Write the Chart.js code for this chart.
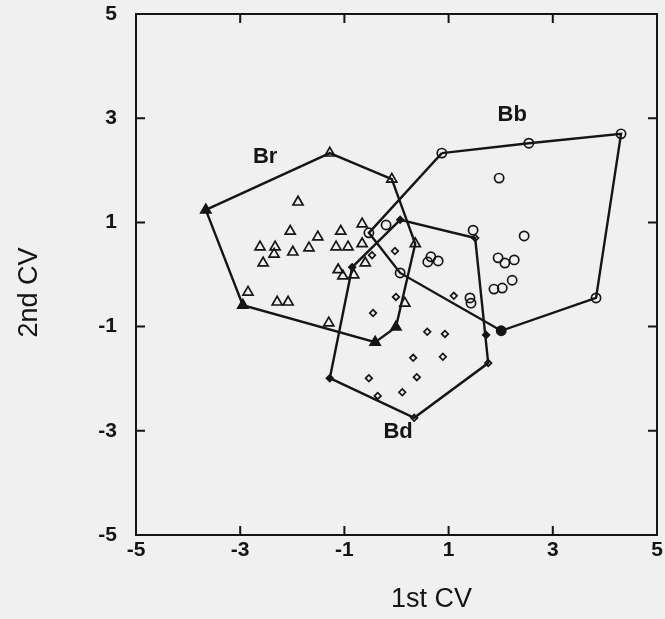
<!DOCTYPE html>
<html>
<head>
<meta charset="utf-8">
<script src="https://cdn.jsdelivr.net/npm/chart.js@4/dist/chart.umd.min.js"></script>
<style>
  html, body { margin: 0; padding: 0; background: #f0f0f0; }
  #wrap { width: 665px; height: 619px; }
</style>
</head>
<body>
<div id="wrap"><canvas id="myChart" width="665" height="619"></canvas></div>
<script>
// Br group (triangles); first 7 points are the hull, in drawing order
const brX = [-3.66, -1.28, -0.09, 0.36, -0.01, -0.41, -2.95,
  -1.89, -2.04, -1.51, -1.07, -0.66, -2.62, -2.33, -2.35, -1.99, -1.68,
  -1.16, -0.93, -0.66, -2.56, -1.12, -1.03, -0.82, -0.60, -2.85, -2.29,
  -2.08, -1.30, 0.16];
const brY = [1.24, 2.33, 1.83, 0.59, -1.01, -1.30, -0.59,
  1.39, 0.83, 0.72, 0.83, 0.97, 0.53, 0.53, 0.39, 0.43, 0.51,
  0.53, 0.53, 0.59, 0.22, 0.09, -0.03, -0.01, 0.22, -0.34, -0.53,
  -0.53, -0.93, -0.55];
const brHull = [0, 1, 2, 3, 4, 5, 6];
const brSolid = [0, 4, 5, 6];

// Bb group (circles)
const bbX = [0.87, 2.54, 4.31, 3.83, 2.01, 0.07, -0.53,
  -0.20, 1.97, 1.47, 2.45, 0.60, 0.66, 0.80, 1.95, 2.08, 2.26, 2.22,
  1.87, 2.03, 1.41, 1.43];
const bbY = [2.33, 2.52, 2.70, -0.45, -1.08, 0.03, 0.80,
  0.95, 1.85, 0.85, 0.74, 0.24, 0.34, 0.26, 0.32, 0.22, 0.28, -0.11,
  -0.28, -0.26, -0.45, -0.55];
const bbHull = [0, 1, 2, 3, 4, 5, 6];
const bbSolid = [4];

// Bd group (diamonds)
const bdX = [-1.28, -0.85, 0.07, 1.51, 1.76, 0.34,
  1.72, -0.03, -0.47, -0.01, -0.45, 1.10, 0.59, 0.93, 0.32, 0.89,
  -0.53, 0.39, 0.11, -0.36];
const bdY = [-1.99, 0.14, 1.05, 0.70, -1.70, -2.75,
  -1.16, 0.45, 0.37, -0.43, -0.74, -0.41, -1.10, -1.14, -1.60, -1.58,
  -1.99, -1.97, -2.26, -2.33];
const bdHull = [0, 1, 2, 3, 4, 5];
const bdSolid = [0, 1, 2, 6];

// group labels and axes
const groupNames = ["Br", "Bb", "Bd"];
const labelX = [-2.52, 2.22, 0.03];
const labelY = [2.25, 3.06, -3.02];
const tickValues = [-5, -3, -1, 1, 3, 5];
const xTitle = "1st CV";
const yTitle = "2nd CV";

const ink = "#151515";

function pts(xs, ys) {
  return xs.map((x, i) => ({ x: x, y: ys[i] }));
}
function hull(xs, ys, order) {
  const p = order.map(i => ({ x: xs[i], y: ys[i] }));
  p.push({ x: xs[order[0]], y: ys[order[0]] });
  return p;
}
function markers(label, xs, ys, style, radius, solid) {
  return {
    label: label,
    data: pts(xs, ys),
    pointStyle: style,
    pointRadius: radius,
    pointBorderWidth: 1.7,
    pointBorderColor: ink,
    pointBackgroundColor: (c) => solid.includes(c.dataIndex) ? ink : "rgba(0,0,0,0)",
    showLine: false
  };
}
function outline(label, xs, ys, order) {
  return {
    label: label,
    data: hull(xs, ys, order),
    showLine: true,
    borderColor: ink,
    borderWidth: 2.4,
    pointRadius: 0,
    fill: false,
    tension: 0
  };
}

const decor = {
  id: "decor",
  afterDraw(chart) {
    const ctx = chart.ctx;
    const a = chart.chartArea;
    const xs = chart.scales.x, ys = chart.scales.y;
    ctx.save();
    ctx.strokeStyle = ink;
    ctx.lineWidth = 2;
    ctx.strokeRect(a.left, a.top, a.right - a.left, a.bottom - a.top);
    // inward ticks on all four sides
    const tl = 9;
    ctx.beginPath();
    tickValues.forEach(v => {
      const px = xs.getPixelForValue(v);
      ctx.moveTo(px, a.bottom); ctx.lineTo(px, a.bottom - tl);
      ctx.moveTo(px, a.top); ctx.lineTo(px, a.top + tl);
      const py = ys.getPixelForValue(v);
      ctx.moveTo(a.left, py); ctx.lineTo(a.left + tl, py);
      ctx.moveTo(a.right, py); ctx.lineTo(a.right - tl, py);
    });
    ctx.stroke();
    // group labels
    ctx.fillStyle = ink;
    ctx.font = "bold 22px 'Liberation Sans Narrow', 'Liberation Sans', sans-serif";
    ctx.textAlign = "center";
    ctx.textBaseline = "middle";
    groupNames.forEach((n, i) => {
      ctx.fillText(n, xs.getPixelForValue(labelX[i]), ys.getPixelForValue(labelY[i]));
    });
    // axis titles
    ctx.font = "27px 'Liberation Sans', sans-serif";
    ctx.fillText(xTitle, (a.left + a.right) / 2 + 35, 600);
    ctx.translate(30, (a.top + a.bottom) / 2 + 18);
    ctx.rotate(-Math.PI / 2);
    ctx.fillText(yTitle, 0, 0);
    ctx.restore();
  }
};

const tickFont = { family: "'Liberation Sans', sans-serif", size: 21, weight: "bold" };

new Chart(document.getElementById("myChart"), {
  type: "scatter",
  data: {
    datasets: [
      markers("Br", brX, brY, "triangle", 5.8, brSolid),
      markers("Bb", bbX, bbY, "circle", 4.6, bbSolid),
      markers("Bd", bdX, bdY, "rectRot", 3.3, bdSolid),
      outline("Br hull", brX, brY, brHull),
      outline("Bb hull", bbX, bbY, bbHull),
      outline("Bd hull", bdX, bdY, bdHull)
    ]
  },
  options: {
    responsive: false,
    animation: false,
    devicePixelRatio: 1,
    layout: { padding: { top: 14, right: 8, left: 0, bottom: 0 } },
    plugins: { legend: { display: false }, tooltip: { enabled: false } },
    scales: {
      x: {
        type: "linear", min: -5, max: 5,
        grid: { display: false, drawTicks: false },
        border: { display: false },
        afterBuildTicks: (s) => { s.ticks = tickValues.map(v => ({ value: v })); },
        afterFit: (s) => { s.height = 84; s.paddingLeft = 0; s.paddingRight = 0; },
        ticks: { color: ink, font: tickFont, padding: 3, maxRotation: 0 }
      },
      y: {
        type: "linear", min: -5, max: 5,
        grid: { display: false, drawTicks: false },
        border: { display: false },
        afterBuildTicks: (s) => { s.ticks = tickValues.map(v => ({ value: v })); },
        afterFit: (s) => { s.width = 136; s.paddingTop = 0; s.paddingBottom = 0; },
        ticks: { color: ink, font: tickFont, padding: 19 }
      }
    }
  },
  plugins: [decor]
});
</script>
</body>
</html>
